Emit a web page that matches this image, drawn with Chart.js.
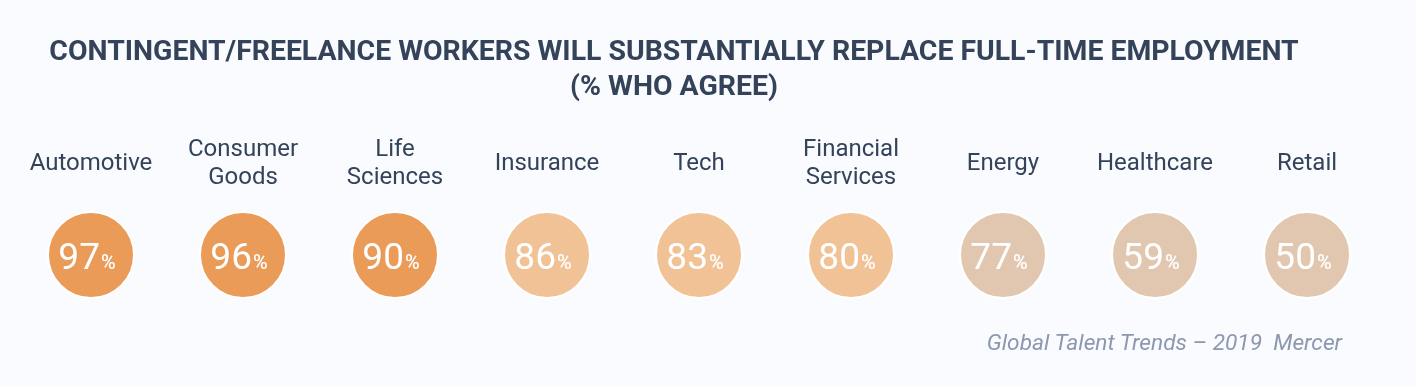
<!DOCTYPE html>
<html>
<head>
<meta charset="utf-8">
<script src="https://cdn.jsdelivr.net/npm/chart.js@4/dist/chart.umd.min.js"></script>
<style>
  html, body { margin: 0; padding: 0; background: #f9fbfe; }
  .frame { position: relative; width: 1416px; height: 386px; font-family: Roboto, "Noto Sans", sans-serif; }
  .frame canvas { position: absolute; left: 0; top: 0; }
  .title {
    position: absolute; left: 0; top: 33px; width: 1348px;
    text-align: center; font-weight: 700; font-size: 28.4px; line-height: 35px;
    color: #34435a;
  }
  .source {
    position: absolute; right: 74px; top: 329px;
    font-style: italic; font-size: 22.7px; line-height: 28px; color: #8b98ad;
  }
</style>
</head>
<body>
<div class="frame">
  <canvas id="agreeChart" width="1416" height="386"></canvas>
  <div class="title">CONTINGENT/FREELANCE WORKERS WILL SUBSTANTIALLY REPLACE FULL-TIME EMPLOYMENT<br>(% WHO AGREE)</div>
  <div class="source">Global Talent Trends – 2019&nbsp; Mercer</div>
</div>
<script>
const industries = [
  "Automotive",
  ["Consumer", "Goods"],
  ["Life", "Sciences"],
  "Insurance",
  "Tech",
  ["Financial", "Services"],
  "Energy",
  "Healthcare",
  "Retail"
];
const agreeShares = [97, 96, 90, 86, 83, 80, 77, 59, 50];
const rowLabels = ["% who agree"];

const tierColors = { high: "#eb9b58", mid: "#f2c297", low: "#e2c7b0" };

function tierColor(value) {
  if (value >= 90) return tierColors.high;
  if (value >= 80) return tierColors.mid;
  return tierColors.low;
}

// white "97%" text inside each circle, big number + small percent sign
const percentLabels = {
  id: "percentLabels",
  afterDatasetsDraw(chart) {
    const { ctx } = chart;
    const meta = chart.getDatasetMeta(0);
    ctx.save();
    ctx.fillStyle = "#ffffff";
    ctx.textBaseline = "alphabetic";
    ctx.textAlign = "left";
    meta.data.forEach((point, index) => {
      const number = String(agreeShares[index]);
      ctx.font = "400 37px Roboto";
      const numberWidth = ctx.measureText(number).width;
      ctx.font = "500 20px Roboto";
      const pctWidth = ctx.measureText("%").width;
      const total = numberWidth + 1 + pctWidth;
      const startX = point.x - total / 2 - 4;
      const baseline = point.y + 14;
      ctx.font = "400 37px Roboto";
      ctx.fillText(number, startX, baseline);
      ctx.font = "500 20px Roboto";
      ctx.fillText("%", startX + numberWidth + 1, baseline);
    });
    ctx.restore();
  }
};

new Chart(document.getElementById("agreeChart"), {
  type: "scatter",
  data: {
    labels: industries,
    datasets: [
      {
        label: "% who agree",
        data: industries.map((industry, index) => ({ x: index, y: rowLabels[0], value: agreeShares[index] })),
        pointRadius: 43,
        pointHoverRadius: 43,
        pointBorderWidth: 2,
        pointBorderColor: "#ffffff",
        pointBackgroundColor: (context) => tierColor(agreeShares[context.dataIndex])
      }
    ]
  },
  options: {
    responsive: false,
    animation: false,
    events: [],
    layout: { autoPadding: false, padding: { left: 15, right: 33, top: 104, bottom: 72 } },
    plugins: {
      legend: { display: false },
      tooltip: { enabled: false },
      title: { display: false }
    },
    scales: {
      x: {
        type: "category",
        position: "top",
        offset: true,
        grid: { display: false, drawTicks: false },
        border: { display: false },
        ticks: {
          padding: 18,
          crossAlign: "center",
          maxRotation: 0,
          autoSkip: false,
          color: "#34435a",
          font: { family: "Roboto", size: 24, lineHeight: 28 / 24 }
        }
      },
      y: {
        type: "category",
        labels: rowLabels,
        offset: true,
        display: false
      }
    }
  },
  plugins: [percentLabels]
});
</script>
</body>
</html>
